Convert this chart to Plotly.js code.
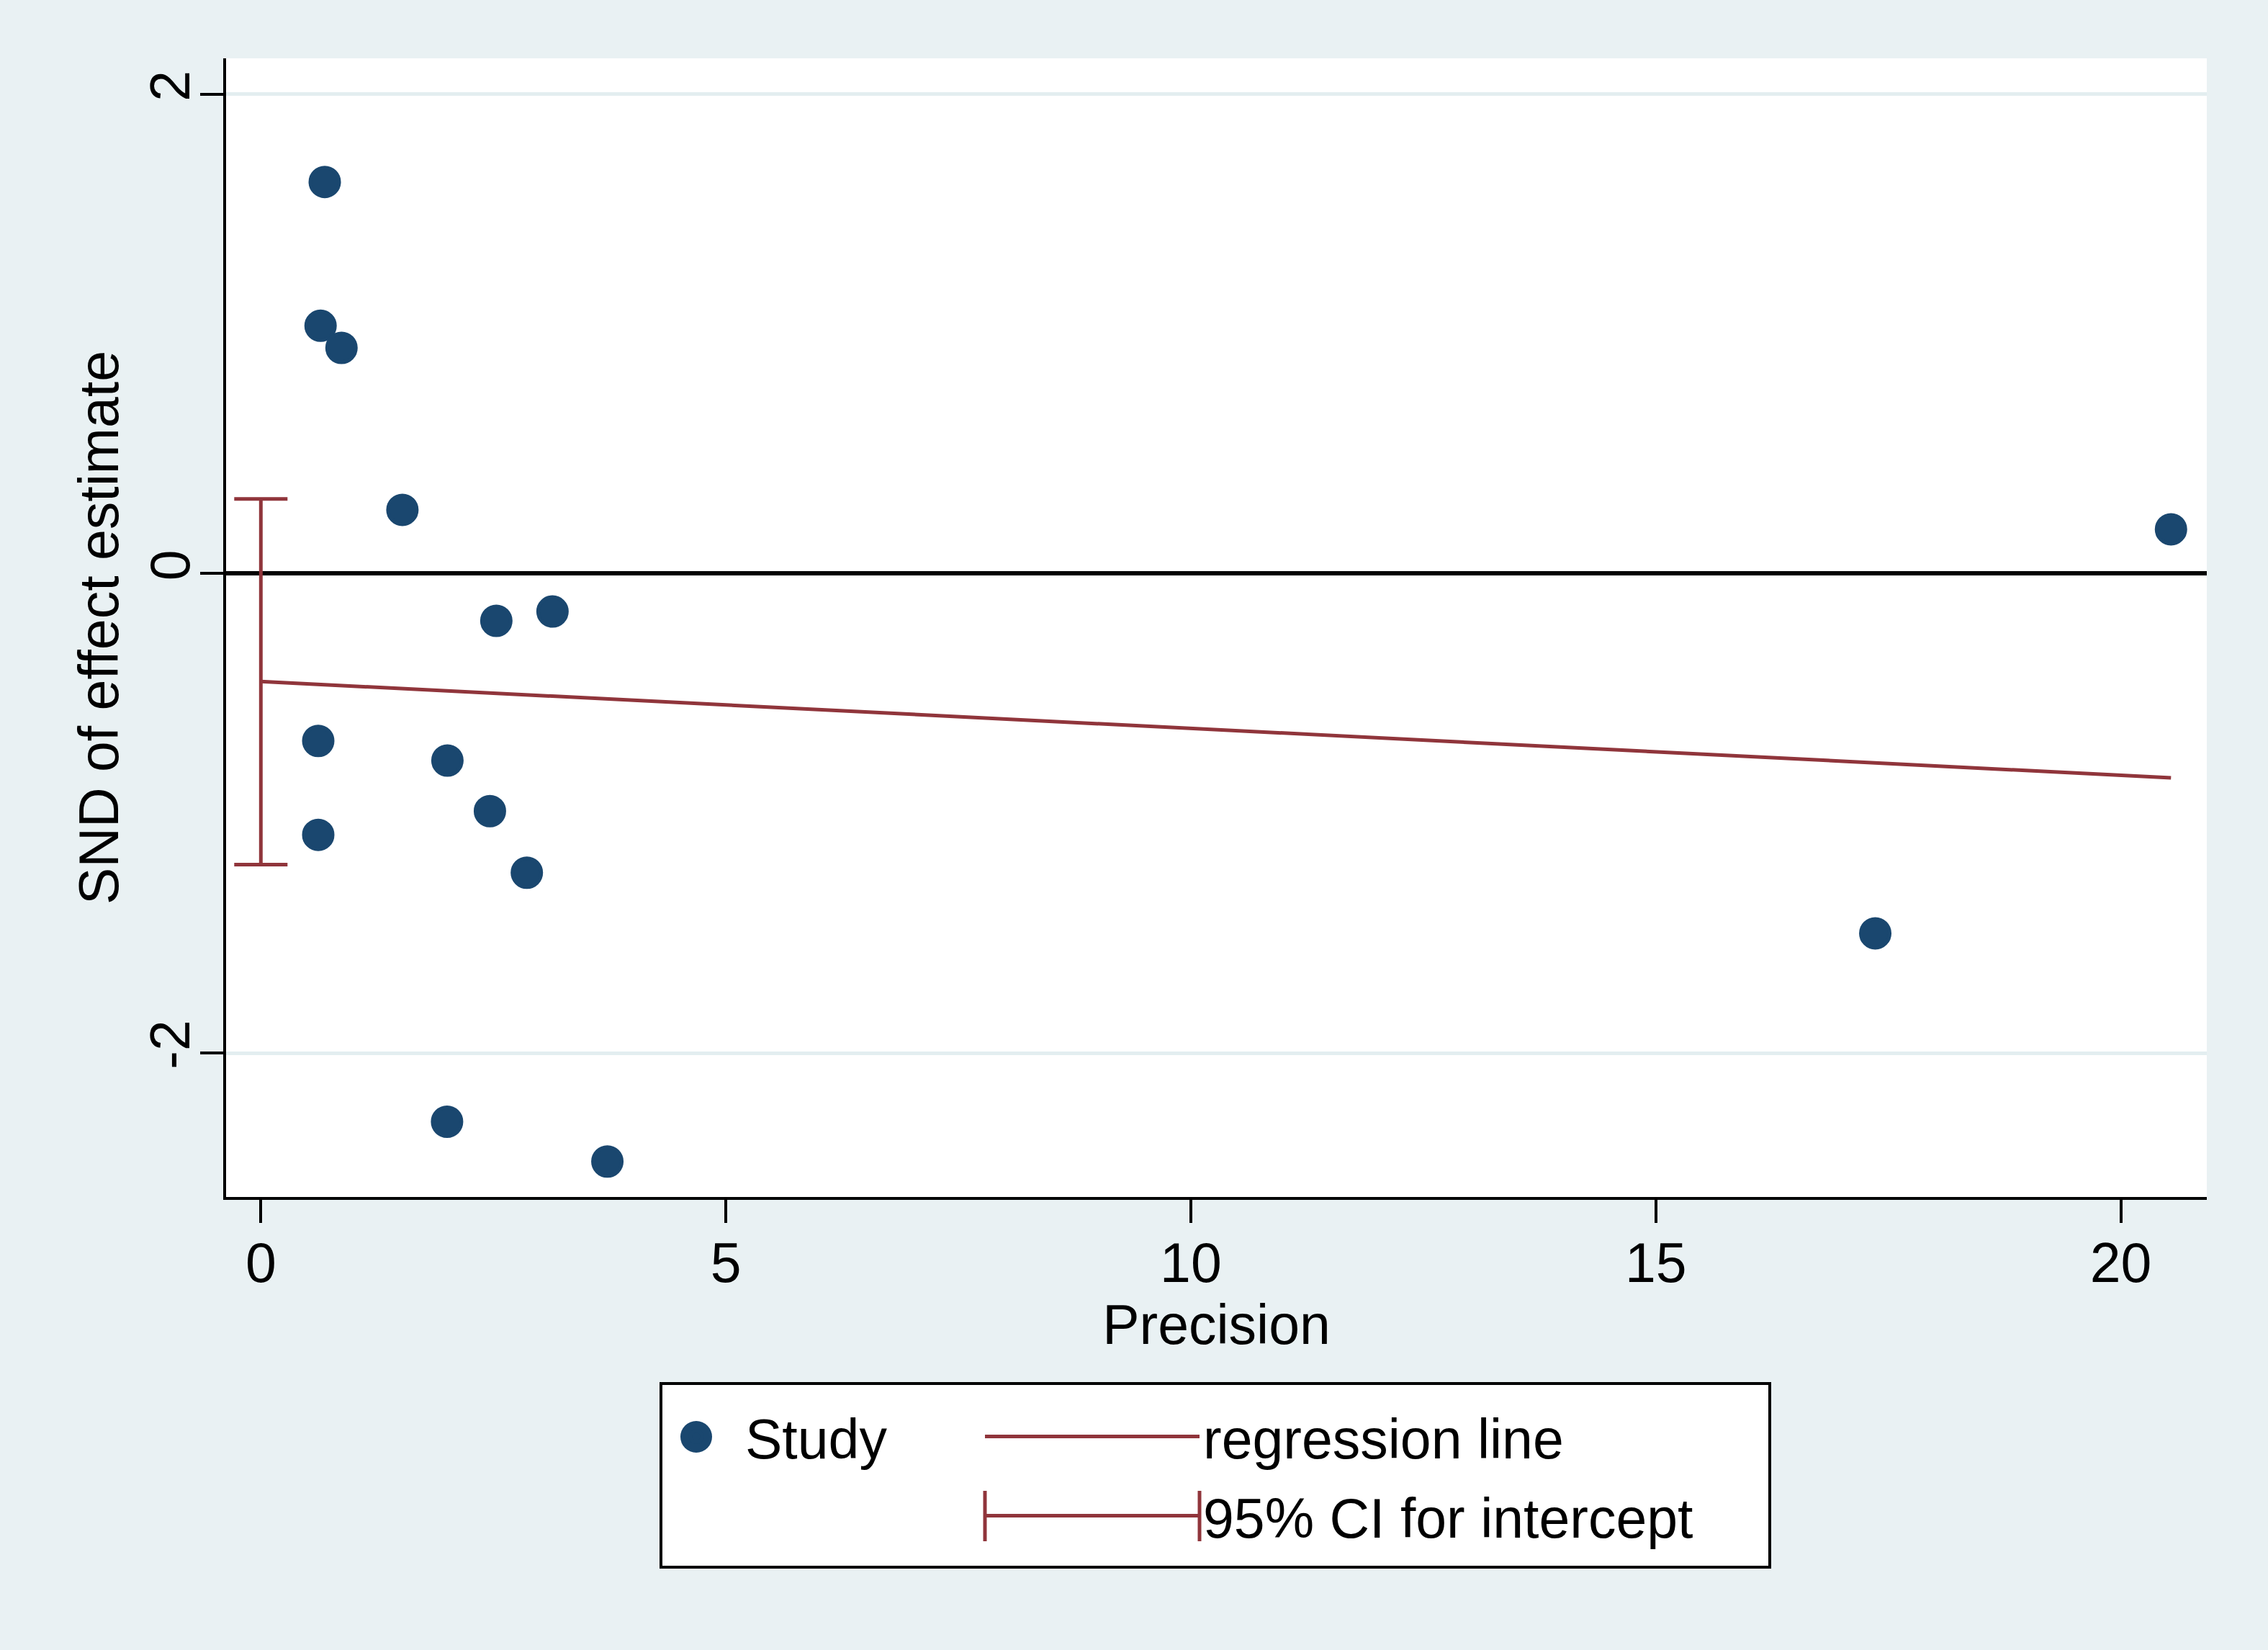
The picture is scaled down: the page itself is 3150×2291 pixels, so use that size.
<!DOCTYPE html>
<html>
<head>
<meta charset="utf-8">
<script src="https://cdn.plot.ly/plotly-3.0.1.min.js"></script>
<style>
  html, body { margin: 0; padding: 0; background: #e9f1f3; }
  #chart { width: 3150px; height: 2291px; }
</style>
</head>
<body>
<div id="chart"></div>
<script>
// ---- data (Egger regression plot) ----
const precision = [0.687, 0.642, 0.867, 1.522, 2.532, 3.136, 0.617, 2.006, 2.463, 0.617, 2.860, 2.002, 3.726, 17.36, 20.54];
const snd       = [1.634, 1.034, 0.942, 0.266, -0.197, -0.158, -0.698, -0.780, -0.991, -1.090, -1.248, -2.287, -2.453, -1.501, 0.185];

const regX = [0, 20.54];
const regY = [-0.450, -0.852];

const ciX = [0];
const ciLower = [-1.214];
const ciUpper = [0.312];

const xTicks = [0, 5, 10, 15, 20];
const yTicks = [-2, 0, 2];

const seriesNames = ["Study", "regression line", "95% CI for intercept"];
const xTitle = "Precision";
const yTitle = "SND of effect estimate";

// ---- styling ----
const NAVY = "#1a476f";
const MAROON = "#90353b";
const BG = "#e9f1f3";
const FONT = "Arial, 'Liberation Sans', Helvetica, sans-serif";
const FS = 77;

const W = 3150, H = 2291;
const M = { l: 314, r: 85, t: 81, b: 629 };
const PW = W - M.l - M.r, PH = H - M.t - M.b;
const px2x = p => (p - M.l) / PW;          // legend placement helpers (paper units)
const py2y = p => (H - M.b - p) / PH;

const traces = [
  {
    type: "scatter", mode: "markers", name: seriesNames[0],
    x: precision, y: snd,
    marker: { color: NAVY, size: 40, line: { color: NAVY, width: 5 } },
    legend: "legend", cliponaxis: false
  },
  {
    type: "scatter", mode: "lines", name: seriesNames[1],
    x: regX, y: regY,
    line: { color: MAROON, width: 5 },
    legend: "legend2"
  },
  {
    type: "scatter", mode: "lines", name: seriesNames[2],
    x: ciX, y: [regY[0]],
    line: { color: MAROON, width: 5 },
    error_y: {
      type: "data", symmetric: false,
      array: ciUpper.map((u, i) => u - regY[0]),
      arrayminus: ciLower.map((l, i) => regY[0] - l),
      color: MAROON, thickness: 5, width: 37
    },
    legend: "legend3"
  }
];

const legendBase = {
  orientation: "v", bgcolor: "rgba(0,0,0,0)", borderwidth: 0,
  font: { family: FONT, size: FS, color: "#000" },
  xanchor: "left", yanchor: "middle", tracegroupgap: 0
};

// legend key decorations (legend box, enlarged study dot, CI end caps), in paper units
const key = { boxL: 918, boxR: 2458, boxT: 1921, boxB: 2176, dotX: 967, row1: 1995, row2: 2105, lineL: 1368, lineR: 1666, dot: 22, cap: 35 };

const layout = {
  width: W, height: H,
  paper_bgcolor: BG, plot_bgcolor: "#ffffff",
  margin: M,
  font: { family: FONT, size: FS, color: "#000" },
  showlegend: true,
  xaxis: {
    range: [-0.374, 20.925], tickvals: xTicks, ticktext: xTicks.map(String),
    showgrid: false, zeroline: false,
    showline: true, linecolor: "#000", linewidth: 4,
    ticks: "outside", ticklen: 32, tickwidth: 4, tickcolor: "#000",
    ticklabelstandoff: -10,
    tickfont: { family: FONT, size: FS, color: "#000" },
    title: { text: xTitle, font: { family: FONT, size: FS, color: "#000" }, standoff: 0 }
  },
  yaxis: {
    range: [-2.601, 2.150], tickvals: yTicks, ticktext: yTicks.map(String),
    tickangle: -90,
    showgrid: true, gridcolor: "#e3eef0", gridwidth: 5,
    zeroline: true, zerolinecolor: "#000", zerolinewidth: 6,
    showline: true, linecolor: "#000", linewidth: 4,
    ticks: "outside", ticklen: 32, tickwidth: 4, tickcolor: "#000",
    ticklabelstandoff: -16,
    tickfont: { family: FONT, size: FS, color: "#000" },
    title: { text: yTitle, font: { family: FONT, size: FS, color: "#000" }, standoff: 4 }
  },
  legend:  Object.assign({}, legendBase, { x: px2x(899), y: py2y(key.row1), itemwidth: 126 }),
  legend2: Object.assign({}, legendBase, { x: px2x(key.lineL - 5), y: py2y(key.row1), itemwidth: key.lineR - key.lineL }),
  legend3: Object.assign({}, legendBase, { x: px2x(key.lineL - 5), y: py2y(key.row2), itemwidth: key.lineR - key.lineL }),
  shapes: [
    { type: "rect", xref: "paper", yref: "paper", layer: "above",
      x0: px2x(key.boxL), x1: px2x(key.boxR), y0: py2y(key.boxB), y1: py2y(key.boxT),
      line: { color: "#000", width: 4 }, fillcolor: "#ffffff" },
    { type: "circle", xref: "paper", yref: "paper", layer: "above",
      x0: px2x(key.dotX - key.dot), x1: px2x(key.dotX + key.dot),
      y0: py2y(key.row1 + key.dot), y1: py2y(key.row1 - key.dot),
      line: { width: 0 }, fillcolor: NAVY },
    { type: "line", xref: "paper", yref: "paper",
      x0: px2x(key.lineL), x1: px2x(key.lineL), y0: py2y(key.row2 + key.cap), y1: py2y(key.row2 - key.cap),
      line: { color: MAROON, width: 5 } },
    { type: "line", xref: "paper", yref: "paper",
      x0: px2x(key.lineR), x1: px2x(key.lineR), y0: py2y(key.row2 + key.cap), y1: py2y(key.row2 - key.cap),
      line: { color: MAROON, width: 5 } }
  ]
};

Plotly.newPlot("chart", traces, layout, { displayModeBar: false, staticPlot: true });
</script>
</body>
</html>
